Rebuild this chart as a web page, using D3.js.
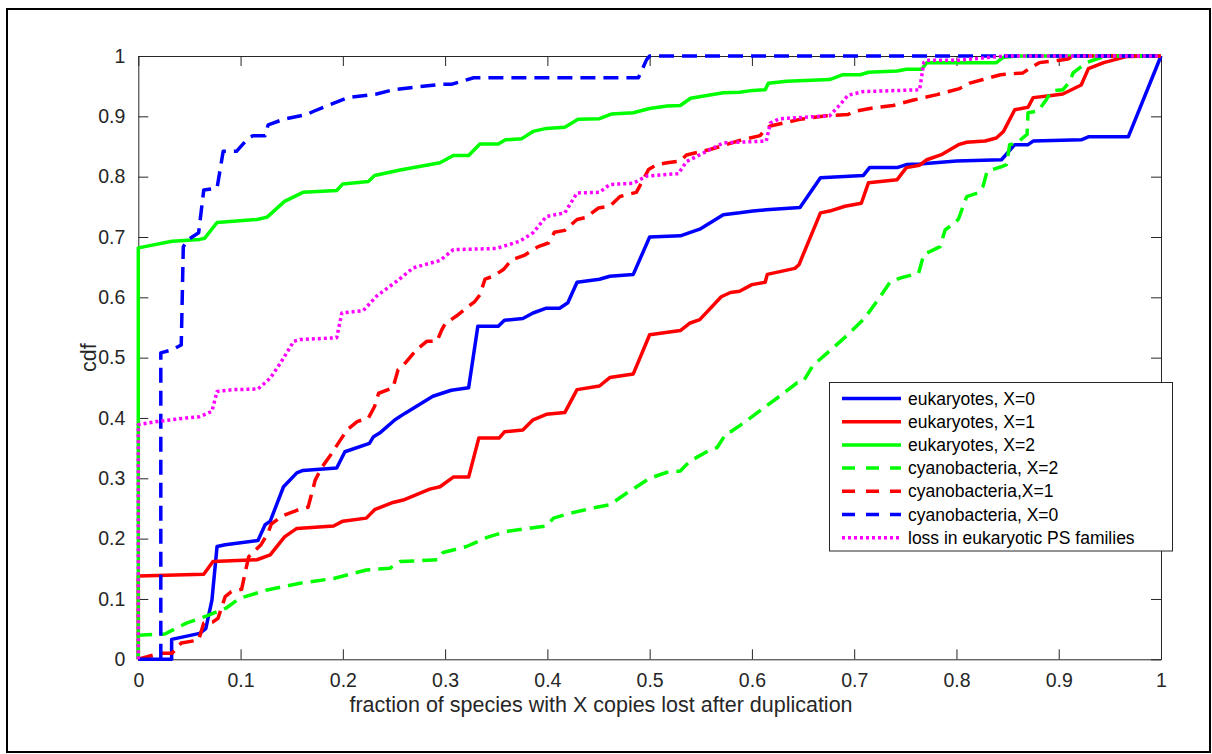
<!DOCTYPE html>
<html><head><meta charset="utf-8">
<script src="https://cdn.jsdelivr.net/npm/d3@7"></script>
<style>body{margin:0;background:#fff}svg{display:block}</style>
</head><body>
<svg id="chart" width="1212" height="754"></svg>
<script>
// ---- data ----
const xTicks = [0,0.1,0.2,0.3,0.4,0.5,0.6,0.7,0.8,0.9,1];
const yTicks = [0,0.1,0.2,0.3,0.4,0.5,0.6,0.7,0.8,0.9,1];
const xTickLabels = ["0","0.1","0.2","0.3","0.4","0.5","0.6","0.7","0.8","0.9","1"];
const yTickLabels = ["0","0.1","0.2","0.3","0.4","0.5","0.6","0.7","0.8","0.9","1"];
const seriesNames = ["eukaryotes, X=0","eukaryotes, X=1","eukaryotes, X=2","cyanobacteria, X=2","cyanobacteria,X=1","cyanobacteria, X=0","loss in eukaryotic PS families"];

const eukX0 = [[0,0],[0.0326,0],[0.0326,0.033],[0.060,0.043],[0.066,0.051],[0.072,0.098],[0.077,0.187],[0.085,0.19],[0.117,0.197],[0.124,0.223],[0.129,0.229],[0.142,0.286],[0.155,0.309],[0.161,0.313],[0.194,0.317],[0.202,0.344],[0.226,0.358],[0.230,0.369],[0.236,0.375],[0.251,0.397],[0.261,0.408],[0.288,0.436],[0.306,0.446],[0.323,0.450],[0.332,0.552],[0.352,0.552],[0.358,0.562],[0.376,0.565],[0.386,0.574],[0.399,0.582],[0.412,0.582],[0.420,0.591],[0.429,0.625],[0.451,0.630],[0.461,0.635],[0.484,0.638],[0.500,0.700],[0.530,0.702],[0.549,0.713],[0.572,0.737],[0.588,0.740],[0.601,0.743],[0.614,0.745],[0.647,0.749],[0.667,0.798],[0.709,0.802],[0.715,0.815],[0.742,0.815],[0.751,0.820],[0.764,0.821],[0.800,0.826],[0.844,0.828],[0.857,0.853],[0.870,0.853],[0.875,0.859],[0.922,0.861],[0.929,0.866],[0.968,0.866],[1,1]];

const eukX1 = [[0,0],[0,0.138],[0.064,0.141],[0.073,0.162],[0.116,0.165],[0.129,0.173],[0.143,0.203],[0.155,0.217],[0.191,0.221],[0.200,0.229],[0.223,0.234],[0.231,0.248],[0.249,0.260],[0.259,0.264],[0.285,0.282],[0.295,0.286],[0.308,0.302],[0.323,0.302],[0.333,0.367],[0.353,0.367],[0.358,0.377],[0.376,0.380],[0.386,0.397],[0.399,0.406],[0.417,0.409],[0.429,0.447],[0.451,0.453],[0.461,0.467],[0.484,0.473],[0.500,0.538],[0.530,0.545],[0.539,0.557],[0.549,0.563],[0.570,0.601],[0.579,0.608],[0.588,0.610],[0.600,0.621],[0.613,0.625],[0.615,0.638],[0.642,0.648],[0.646,0.654],[0.667,0.740],[0.676,0.743],[0.691,0.751],[0.707,0.756],[0.714,0.790],[0.742,0.795],[0.751,0.815],[0.764,0.819],[0.771,0.828],[0.786,0.837],[0.802,0.853],[0.810,0.857],[0.828,0.859],[0.839,0.864],[0.846,0.875],[0.857,0.911],[0.870,0.915],[0.875,0.931],[0.891,0.934],[0.904,0.937],[0.922,0.952],[0.929,0.979],[0.944,0.989],[0.966,0.999],[1,1]];

const eukX2 = [[0,0],[0,0.682],[0.033,0.693],[0.060,0.696],[0.065,0.698],[0.077,0.724],[0.116,0.729],[0.126,0.733],[0.143,0.759],[0.161,0.774],[0.194,0.777],[0.200,0.788],[0.225,0.792],[0.231,0.802],[0.256,0.811],[0.295,0.823],[0.308,0.835],[0.323,0.835],[0.334,0.854],[0.352,0.854],[0.359,0.861],[0.375,0.863],[0.386,0.875],[0.399,0.880],[0.417,0.882],[0.430,0.895],[0.451,0.896],[0.463,0.904],[0.484,0.906],[0.500,0.913],[0.517,0.917],[0.530,0.918],[0.540,0.930],[0.572,0.939],[0.588,0.940],[0.601,0.943],[0.613,0.944],[0.616,0.955],[0.634,0.958],[0.676,0.961],[0.689,0.969],[0.706,0.969],[0.714,0.973],[0.742,0.975],[0.751,0.978],[0.766,0.978],[0.771,0.989],[0.839,0.989],[0.846,0.998],[0.86,1],[1,1]];

const cyaX2 = [[0,0],[0,0.040],[0.026,0.042],[0.047,0.060],[0.067,0.072],[0.086,0.085],[0.099,0.101],[0.126,0.115],[0.158,0.126],[0.191,0.134],[0.223,0.148],[0.246,0.151],[0.256,0.162],[0.293,0.165],[0.298,0.177],[0.321,0.187],[0.341,0.202],[0.360,0.212],[0.386,0.218],[0.399,0.221],[0.406,0.234],[0.422,0.242],[0.448,0.252],[0.461,0.256],[0.478,0.276],[0.500,0.300],[0.517,0.310],[0.530,0.312],[0.539,0.328],[0.559,0.347],[0.566,0.351],[0.575,0.375],[0.580,0.378],[0.592,0.392],[0.611,0.416],[0.627,0.436],[0.644,0.458],[0.650,0.460],[0.660,0.488],[0.663,0.492],[0.680,0.517],[0.695,0.54],[0.71,0.565],[0.725,0.6],[0.735,0.625],[0.745,0.632],[0.763,0.640],[0.768,0.671],[0.784,0.684],[0.789,0.712],[0.799,0.724],[0.802,0.730],[0.810,0.767],[0.821,0.773],[0.826,0.784],[0.830,0.809],[0.843,0.816],[0.849,0.820],[0.852,0.853],[0.859,0.856],[0.869,0.870],[0.870,0.906],[0.880,0.909],[0.888,0.928],[0.893,0.942],[0.904,0.944],[0.911,0.958],[0.914,0.972],[0.927,0.989],[0.937,0.995],[0.947,1.0],[1,1]];

const cyaX1 = [[0,0],[0.02,0.01],[0.033,0.01],[0.042,0.027],[0.059,0.032],[0.064,0.06],[0.073,0.062],[0.078,0.068],[0.085,0.104],[0.091,0.112],[0.101,0.116],[0.104,0.14],[0.108,0.17],[0.12,0.19],[0.127,0.21],[0.13,0.224],[0.14,0.237],[0.155,0.247],[0.166,0.252],[0.173,0.297],[0.179,0.317],[0.187,0.336],[0.204,0.38],[0.214,0.394],[0.225,0.4],[0.231,0.419],[0.235,0.441],[0.249,0.45],[0.254,0.48],[0.258,0.485],[0.272,0.513],[0.282,0.527],[0.292,0.527],[0.297,0.547],[0.300,0.556],[0.311,0.569],[0.329,0.593],[0.334,0.604],[0.339,0.630],[0.347,0.635],[0.357,0.646],[0.365,0.662],[0.378,0.670],[0.391,0.684],[0.401,0.690],[0.407,0.708],[0.417,0.711],[0.429,0.729],[0.437,0.732],[0.450,0.748],[0.461,0.751],[0.471,0.767],[0.487,0.774],[0.492,0.790],[0.499,0.812],[0.507,0.820],[0.517,0.823],[0.530,0.826],[0.536,0.836],[0.559,0.845],[0.588,0.860],[0.608,0.868],[0.613,0.878],[0.618,0.884],[0.647,0.895],[0.673,0.901],[0.694,0.903],[0.699,0.908],[0.719,0.914],[0.738,0.918],[0.758,0.927],[0.781,0.936],[0.803,0.946],[0.813,0.955],[0.826,0.961],[0.843,0.969],[0.865,0.972],[0.872,0.980],[0.881,0.989],[0.901,0.993],[0.909,0.995],[0.914,1.0],[1,1]];

const cyaX0 = [[0,0],[0.022,0],[0.022,0.508],[0.033,0.513],[0.042,0.521],[0.044,0.684],[0.049,0.696],[0.059,0.707],[0.064,0.778],[0.077,0.781],[0.083,0.842],[0.096,0.842],[0.106,0.861],[0.112,0.868],[0.124,0.868],[0.127,0.886],[0.142,0.895],[0.165,0.903],[0.171,0.908],[0.184,0.917],[0.205,0.931],[0.233,0.937],[0.249,0.944],[0.295,0.953],[0.306,0.953],[0.328,0.964],[0.489,0.964],[0.497,0.994],[0.500,1.0],[1,1]];

const lossPS = [[0,0],[0,0.389],[0.018,0.394],[0.047,0.400],[0.060,0.402],[0.072,0.411],[0.077,0.444],[0.093,0.447],[0.117,0.448],[0.129,0.466],[0.139,0.491],[0.152,0.527],[0.158,0.530],[0.194,0.533],[0.199,0.574],[0.220,0.578],[0.233,0.602],[0.253,0.627],[0.269,0.649],[0.295,0.661],[0.308,0.679],[0.350,0.681],[0.373,0.693],[0.386,0.707],[0.399,0.734],[0.417,0.740],[0.429,0.773],[0.451,0.774],[0.461,0.787],[0.484,0.789],[0.497,0.801],[0.528,0.805],[0.536,0.825],[0.572,0.856],[0.614,0.859],[0.618,0.889],[0.627,0.896],[0.676,0.901],[0.686,0.919],[0.694,0.935],[0.709,0.941],[0.764,0.944],[0.768,0.989],[0.771,0.993],[0.803,0.993],[0.846,1.0],[1,1]];

// ---- styling (kept separate from data) ----
const styles = [
  {color:"#0000ff", dash:null},
  {color:"#ff0000", dash:null},
  {color:"#00ff00", dash:null},
  {color:"#00ff00", dash:"15,8"},
  {color:"#ff0000", dash:"15,8"},
  {color:"#0000ff", dash:"15,8"},
  {color:"#ff00ff", dash:"3,3"}
];
const allSeries = [eukX0, eukX1, eukX2, cyaX2, cyaX1, cyaX0, lossPS];

const svg = d3.select("#chart");
const axisColor = "#262626";
const font = "'Liberation Sans', Arial, Helvetica, sans-serif";

// outer frame
svg.append("rect").attr("x",7).attr("y",9).attr("width",1203).attr("height",743)
  .attr("fill","none").attr("stroke","#000").attr("stroke-width",2);

const x = d3.scaleLinear().domain([0,1]).range([138.3,1161]);
const y = d3.scaleLinear().domain([0,1]).range([659.3,56]);

function styleAxis(g, showLabels){
  g.select(".domain").attr("stroke",axisColor).attr("stroke-width",1);
  g.selectAll(".tick line").attr("stroke",axisColor).attr("stroke-width",1);
  g.selectAll(".tick text").attr("fill",axisColor).style("font-family",font).style("font-size","19.5px");
  if(!showLabels) g.selectAll(".tick text").remove();
}

svg.append("g").attr("transform",`translate(0,${y(0)})`)
  .call(d3.axisBottom(x).tickValues(xTicks).tickFormat((d,i)=>xTickLabels[i]).tickSizeInner(-10).tickSizeOuter(0).tickPadding(14))
  .call(g=>styleAxis(g,true));
svg.append("g").attr("transform",`translate(0,${y(1)})`)
  .call(d3.axisTop(x).tickValues(xTicks).tickSizeInner(-10).tickSizeOuter(0))
  .call(g=>styleAxis(g,false));
svg.append("g").attr("transform",`translate(${x(0)},0)`)
  .call(d3.axisLeft(y).tickValues(yTicks).tickFormat((d,i)=>yTickLabels[i]).tickSizeInner(-10).tickSizeOuter(0).tickPadding(13))
  .call(g=>styleAxis(g,true));
svg.append("g").attr("transform",`translate(${x(1)},0)`)
  .call(d3.axisRight(y).tickValues(yTicks).tickSizeInner(-10).tickSizeOuter(0))
  .call(g=>styleAxis(g,false));

// axis labels
svg.append("text").attr("x",601).attr("y",712)
  .attr("text-anchor","middle").attr("fill",axisColor)
  .style("font-family",font).style("font-size","21.5px")
  .text("fraction of species with X copies lost after duplication");
svg.append("text").attr("transform",`translate(96,${(y(0)+y(1))/2}) rotate(-90)`)
  .attr("text-anchor","middle").attr("fill",axisColor)
  .style("font-family",font).style("font-size","21.5px")
  .text("cdf");

// lines
const line = d3.line().x(d=>x(d[0])).y(d=>y(d[1]));
allSeries.forEach((s,i)=>{
  const p = svg.append("path").datum(s).attr("d",line)
    .attr("fill","none").attr("stroke",styles[i].color)
    .attr("stroke-width",3.5).attr("stroke-linejoin","round");
  if(styles[i].dash) p.attr("stroke-dasharray",styles[i].dash);
});

// legend
const lg = svg.append("g");
lg.append("rect").attr("x",829.5).attr("y",382.5).attr("width",343).attr("height",168.5)
  .attr("fill","#fff").attr("stroke",axisColor).attr("stroke-width",1);
seriesNames.forEach((name,i)=>{
  const yy = 398.5 + i*23.2;
  const l = lg.append("line").attr("x1",842).attr("x2",901).attr("y1",yy).attr("y2",yy)
    .attr("stroke",styles[i].color).attr("stroke-width",3.5);
  if(styles[i].dash) l.attr("stroke-dasharray", i===6 ? "3,3" : "13,11");
  lg.append("text").attr("x",908).attr("y",yy).attr("dy","0.35em")
    .attr("fill","#000").style("font-family",font).style("font-size","17.5px").text(name);
});
</script>
</body></html>
